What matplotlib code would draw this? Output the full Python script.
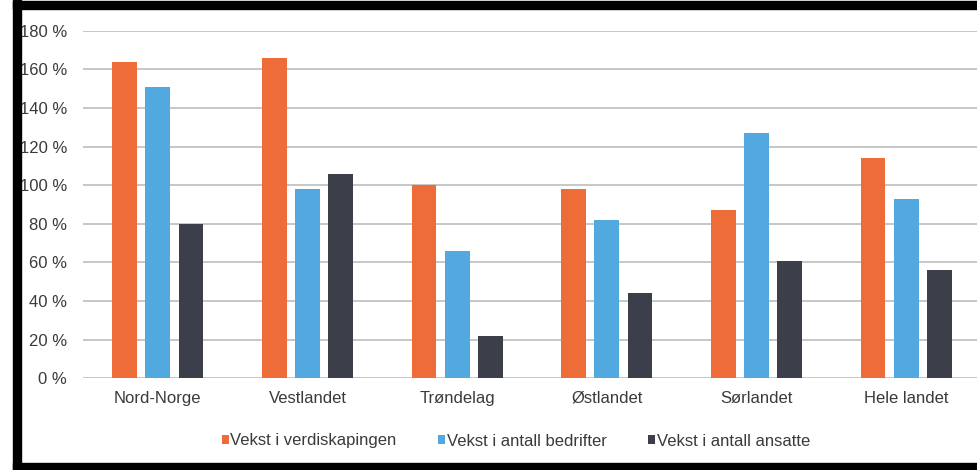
import matplotlib
matplotlib.use("Agg")
import matplotlib.pyplot as plt
from matplotlib.patches import Rectangle
import numpy as np

categories = ["Nord-Norge", "Vestlandet", "Trøndelag", "Østlandet", "Sørlandet", "Hele landet"]
series_names = ["Vekst i verdiskapingen", "Vekst i antall bedrifter", "Vekst i antall ansatte"]
verdiskaping = [164, 166, 100, 98, 87, 114]
bedrifter = [151, 98, 66, 82, 127, 93]
ansatte = [80, 106, 22, 44, 61, 56]
yticks = [0, 20, 40, 60, 80, 100, 120, 140, 160, 180]
ytick_labels = ["0 %", "20 %", "40 %", "60 %", "80 %", "100 %", "120 %", "140 %", "160 %", "180 %"]

colors = ["#ED6C37", "#51A9DF", "#3C3F4A"]
text_color = "#3A3A3A"

plt.rcParams["font.family"] = ["Liberation Sans", "DejaVu Sans"]
plt.rcParams["font.size"] = 12

fig = plt.figure(figsize=(9.78, 4.70), dpi=100)
ax = fig.add_axes([83/978, (470-378.3)/470, (981-83)/978, (378.3-30.7)/470])

x = np.arange(len(categories))
width = 0.165
step = 0.2225
handles = []
for i, (vals, name) in enumerate(zip([verdiskaping, bedrifter, ansatte], series_names)):
    b = ax.bar(x + (i - 1) * step, vals, width, color=colors[i], label=name, zorder=3)
    handles.append(b)

ax.set_xlim(-0.5, len(categories) - 0.5)
ax.set_ylim(0, 180)
ax.set_yticks(yticks)
ax.set_yticklabels(ytick_labels, color=text_color)
ax.set_xticks(x)
ax.set_xticklabels(categories, color=text_color)
ax.tick_params(axis="y", length=0, pad=11.5)
ax.tick_params(axis="x", length=0, pad=9)
for s in ax.spines.values():
    s.set_visible(False)
ax.yaxis.grid(True, color="#BDBDBD", linewidth=1.2, zorder=0)
ax.set_axisbelow(True)

leg = fig.legend(handles=handles, labels=series_names, loc="center", ncol=3,
                 bbox_to_anchor=(516/978, (470-441)/470), frameon=False,
                 handlelength=0.4, handleheight=0.4, handletextpad=0.1,
                 columnspacing=2.5, borderpad=0, labelcolor=text_color)

# black frame (left, top, bottom)
fig.patches.append(Rectangle((13/978, 0), 8/978, 1, transform=fig.transFigure, color="black", zorder=10))
fig.patches.append(Rectangle((13/978, (470-9)/470), 1, 8/470, transform=fig.transFigure, color="black", zorder=10))
fig.patches.append(Rectangle((13/978, 0), 1, 7/470, transform=fig.transFigure, color="black", zorder=10))

fig.savefig("out.png", dpi=100)
